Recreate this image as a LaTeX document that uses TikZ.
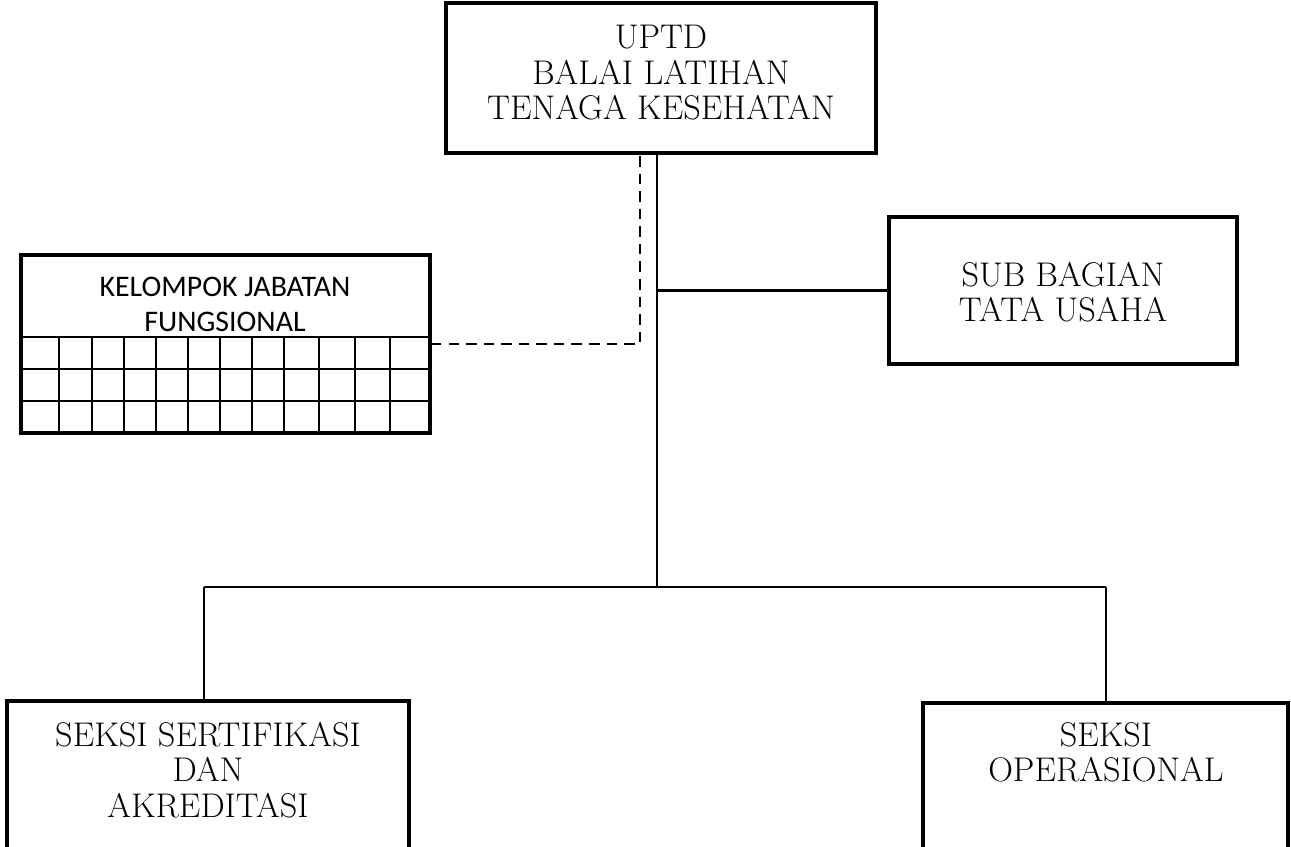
\documentclass[tikz,border=0pt]{standalone}
\usepackage{fontspec}
\newfontfamily\calibri{Carlito}
\usetikzlibrary{positioning}

\tikzset{
  unitbox/.style={draw, line width=1.9pt, inner sep=0pt},
  boxtext/.style={align=center, inner sep=0pt, font=\fontsize{19.5}{20.1}\selectfont},
  link/.style={line width=1.4pt},
  dotlink/.style={line width=1.4pt, dash pattern=on 6pt off 4pt}
}

\begin{document}
\begin{tikzpicture}[x=0.02cm, y=-0.02cm]
\useasboundingbox (0,0) rectangle (1291,847);
\clip (0,0) rectangle (1291,847);

% Head of the unit
\node[unitbox, minimum width=8.6cm, minimum height=3cm] (uptd) at (661,78) {};
\node[boxtext, anchor=north] (uptd-txt) at (661,25) {UPTD\\BALAI LATIHAN\\TENAGA KESEHATAN};

% Sub bagian tata usaha
\node[unitbox, minimum width=6.96cm, minimum height=2.94cm] (tu) at (1063,290.5) {};
\node[boxtext, anchor=north] (tu-txt) at (1063,262) {SUB BAGIAN\\TATA USAHA};

% Kelompok jabatan fungsional (grid)
\node[unitbox, minimum width=8.18cm, minimum height=3.56cm] (jf) at (225.5,344) {};
\node[align=center, inner sep=0pt, anchor=north, font=\calibri\fontsize{17}{19.8}\selectfont]
  (jf-txt) at (225,277) {KELOMPOK JABATAN\\FUNGSIONAL};
\draw[line width=1.4pt] (21,337) -- (430,337);
\foreach \y in {369,401}
  \draw[line width=1pt] (21,\y) -- (430,\y);
\foreach \x in {59,92,124,156,188,220,252,284,319,355,390}
  \draw[line width=1pt] (\x,337) -- (\x,433);

% Seksi boxes (cut at the bottom)
\node[unitbox, minimum width=8.04cm, minimum height=4cm] (sks) at (208,801) {};
\node[boxtext, anchor=north] (sks-txt) at (208,722) {SEKSI SERTIFIKASI\\DAN\\AKREDITASI};
\node[unitbox, minimum width=7.3cm, minimum height=4cm] (ops) at (1105.5,803) {};
\node[boxtext, anchor=north] (ops-txt) at (1106,722) {SEKSI\\OPERASIONAL};

% Lines of command
\coordinate (split) at (657,587);
\coordinate (bar-l) at (204,587);
\coordinate (bar-r) at (1106,587);
\draw[link] (uptd.south -| split) -- (split);
\draw[link] (split |- tu.west) -- (tu.west);
\draw[link] (bar-l) -- (bar-r);
\draw[link] (bar-l) -- (bar-l |- sks.north);
\draw[link] (bar-r) -- (bar-r |- ops.north);

% Line of coordination
\coordinate (dash-top) at (640,156);
\draw[dotlink] (dash-top) |- (jf.east);
\end{tikzpicture}
\end{document}
